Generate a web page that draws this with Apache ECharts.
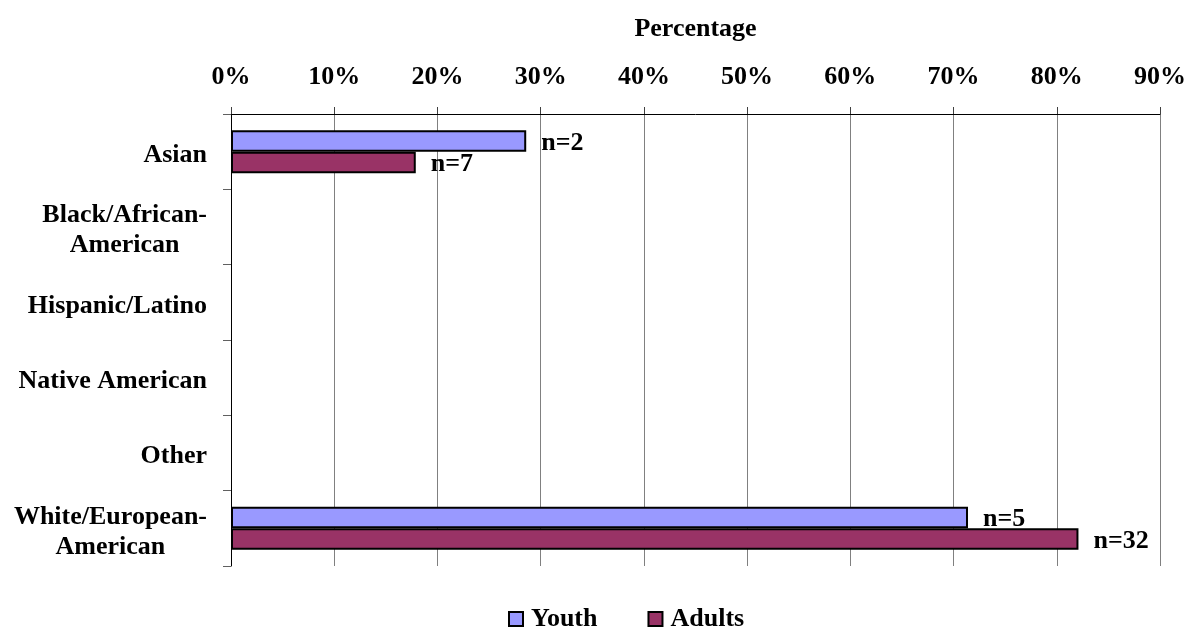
<!DOCTYPE html>
<html>
<head>
<meta charset="utf-8">
<script src="https://cdn.jsdelivr.net/npm/echarts@6/dist/echarts.min.js"></script>
<style>
  html, body { margin: 0; padding: 0; background: #ffffff; }
  #chart { width: 1195px; height: 629px; }
</style>
</head>
<body>
<div id="chart"></div>
<script>
// Race / ethnicity of respondents, share of each group (percent)
const categories = [
  'Asian',
  'Black/African-\nAmerican',
  'Hispanic/Latino',
  'Native American',
  'Other',
  'White/European-\nAmerican'
];
const youthPct  = [28.6, null, null, null, null, 71.4];
const adultsPct = [17.9, null, null, null, null, 82.1];
const youthN    = [2, null, null, null, null, 5];
const adultsN   = [7, null, null, null, null, 32];
const xTicks = { min: 0, max: 90, step: 10 };

const FONT = '"Liberation Serif", "Times New Roman", serif';
const FS = 26;

const chart = echarts.init(document.getElementById('chart'), null, { renderer: 'canvas' });

function barLabel(counts) {
  return {
    show: true,
    position: 'right',
    distance: 15,
    offset: [0, 2],
    fontFamily: FONT,
    fontWeight: 'bold',
    fontSize: FS,
    color: '#000',
    formatter: p => (counts[p.dataIndex] == null ? '' : 'n=' + counts[p.dataIndex])
  };
}

chart.setOption({
  animation: false,
  backgroundColor: '#ffffff',
  textStyle: { fontFamily: FONT },
  grid: { left: 231, right: 35, top: 114, bottom: 63, containLabel: false },
  legend: {
    data: ['Youth', 'Adults'],
    left: 503,
    top: 601,
    icon: 'rect',
    itemWidth: 14,
    itemHeight: 14,
    itemGap: 50,
    itemStyle: { borderColor: '#000', borderWidth: 2 },
    textStyle: { fontFamily: FONT, fontWeight: 'bold', fontSize: FS, color: '#000', padding: [0, 0, 0, 3] }
  },
  xAxis: {
    type: 'value',
    position: 'top',
    min: xTicks.min,
    max: xTicks.max,
    interval: xTicks.step,
    name: 'Percentage',
    nameLocation: 'middle',
    nameGap: 72,
    nameTextStyle: { fontFamily: FONT, fontWeight: 'bold', fontSize: FS, color: '#000' },
    axisLine: { show: true, lineStyle: { color: '#000', width: 1 } },
    axisTick: { show: true, length: 7, lineStyle: { color: '#404040', width: 1 } },
    splitLine: { show: true, lineStyle: { color: '#808080', width: 1 } },
    axisLabel: {
      margin: 24,
      fontFamily: FONT,
      fontWeight: 'bold',
      fontSize: FS,
      color: '#000',
      formatter: '{value}%'
    }
  },
  yAxis: {
    type: 'category',
    inverse: true,
    data: categories,
    axisLine: { show: true, lineStyle: { color: '#000', width: 1 } },
    axisTick: { show: true, length: 8, lineStyle: { color: '#606060', width: 1 } },
    splitLine: { show: false },
    axisLabel: {
      margin: 24,
      align: 'right',
      padding: [7, 0, 0, 0],
      fontFamily: FONT,
      fontWeight: 'bold',
      fontSize: FS,
      color: '#000',
      formatter: v => v.split('\n').map(s => '{c|' + s + '}').join('\n'),
      rich: {
        c: { align: 'center', fontFamily: FONT, fontWeight: 'bold', fontSize: FS, color: '#000', lineHeight: 30 }
      }
    }
  },
  series: [
    {
      name: 'Youth',
      type: 'bar',
      data: youthPct,
      barWidth: 21.5,
      barGap: '0%',
      itemStyle: { color: '#9999FF', borderColor: '#000', borderWidth: 2 },
      label: barLabel(youthN)
    },
    {
      name: 'Adults',
      type: 'bar',
      data: adultsPct,
      barWidth: 21.5,
      barGap: '0%',
      itemStyle: { color: '#993366', borderColor: '#000', borderWidth: 2 },
      label: barLabel(adultsN)
    }
  ]
});
</script>
</body>
</html>
